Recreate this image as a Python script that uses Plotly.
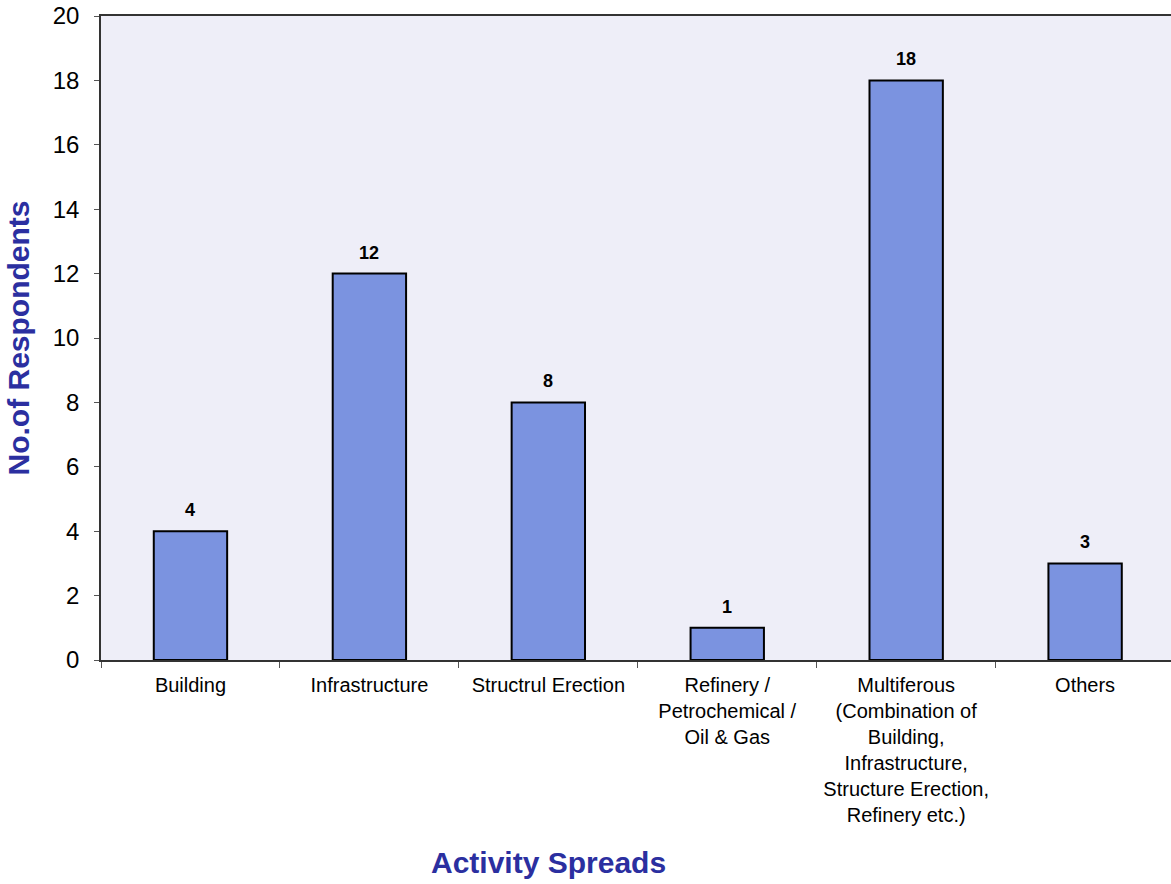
import plotly.graph_objects as go

categories = [
    "Building",
    "Infrastructure",
    "Structrul Erection",
    "Refinery /<br>Petrochemical /<br>Oil & Gas",
    "Multiferous<br>(Combination of<br>Building,<br>Infrastructure,<br>Structure Erection,<br>Refinery etc.)",
    "Others",
]
respondents = [4, 12, 8, 1, 18, 3]
y_ticks = [0, 2, 4, 6, 8, 10, 12, 14, 16, 18, 20]

fig = go.Figure()
fig.add_trace(go.Bar(
    x=categories,
    y=respondents,
    width=0.41,
    marker=dict(color="#7b93e0", line=dict(color="black", width=2)),
))
for c, v in zip(categories, respondents):
    fig.add_annotation(
        x=c, y=v, xref="x", yref="y", text=f"<b>{v}</b>", showarrow=False,
        yanchor="bottom", yshift=9,
        font=dict(family="Liberation Sans, Arial", size=18, color="black"),
    )

fig.update_layout(
    width=1171, height=884,
    margin=dict(l=101, r=0, t=16, b=224),
    paper_bgcolor="white",
    plot_bgcolor="#eeeef8",
    showlegend=False,
    font=dict(family="Liberation Sans, Arial", color="black"),
)
fig.update_xaxes(
    range=[-0.5, 5.48],
    showline=True, linecolor="#333", linewidth=1.5, mirror=True,
    ticks="outside", ticklen=6, tickcolor="#555", tickson="boundaries",
    tickfont=dict(size=20, color="black"), ticklabelstandoff=6,
    showgrid=False,
)
fig.update_yaxes(
    range=[0, 20],
    tickvals=y_ticks,
    showline=True, linecolor="#333", linewidth=1.5,
    ticks="outside", ticklen=5, tickcolor="#555",
    tickfont=dict(size=24, color="black"), ticklabelstandoff=10,
    showgrid=False, zeroline=False,
    title=dict(text="<b>No.of Respondents</b>", font=dict(size=30, color="#2b2fa0"), standoff=14),
)
fig.add_annotation(
    text="<b>Activity Spreads</b>", xref="x", yref="paper", x=2, y=0, yshift=-202,
    yanchor="middle", showarrow=False, font=dict(size=30, color="#2b2fa0"),
)

fig.write_html("out.html")
